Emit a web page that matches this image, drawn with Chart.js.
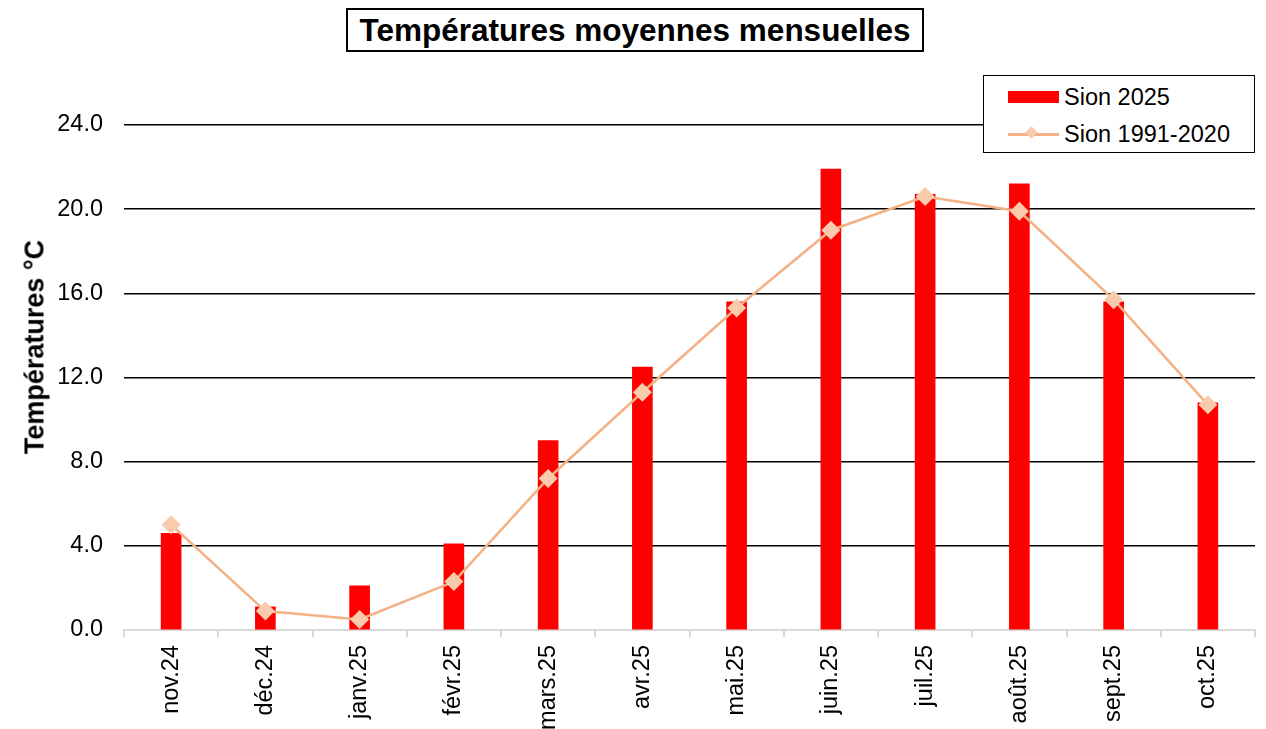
<!DOCTYPE html>
<html lang="fr">
<head>
<meta charset="utf-8">
<script src="https://cdn.jsdelivr.net/npm/chart.js@4.4.1/dist/chart.umd.min.js"></script>
<style>
html,body{margin:0;padding:0;background:#fff;}
#wrap{position:relative;width:1266px;height:729px;font-family:"Liberation Sans",Arial,sans-serif;color:#000;}
#chart{position:absolute;left:0;top:0;}
#title{position:absolute;left:346px;top:8px;width:574px;height:40px;border:2px solid #000;background:#fff;
  font-weight:bold;font-size:31.5px;line-height:41px;text-align:center;white-space:nowrap;}
#ytitle{position:absolute;left:35px;top:347px;transform:translate(-50%,-50%) rotate(-90deg);
  font-weight:bold;font-size:27px;white-space:nowrap;line-height:1;}
#legend{position:absolute;left:983px;top:75px;width:270px;height:76px;border:1.5px solid #000;background:#fff;font-size:23.5px;}
.item{position:absolute;left:0;width:100%;height:30px;}
.item .txt{position:absolute;left:80px;top:50%;transform:translateY(-50%);white-space:nowrap;}
.sw-bar{position:absolute;left:24px;top:9px;width:51px;height:12px;background:#ff0000;}
.sw-line{position:absolute;left:24px;top:14px;width:51px;height:2.5px;background:#f4b183;}
.sw-dot{position:absolute;left:43px;top:9px;width:9px;height:9px;background:#f8cbad;transform:rotate(45deg);}
</style>
</head>
<body>
<div id="wrap">
  <canvas id="chart" width="1266" height="729"></canvas>
  <div id="title">Températures moyennes mensuelles</div>
  <div id="ytitle">Températures °C</div>
  <div id="legend"></div>
</div>
<script>
const months = ['nov.24','déc.24','janv.25','févr.25','mars.25','avr.25','mai.25','juin.25','juil.25','août.25','sept.25','oct.25'];
const sion2025 = [4.6, 1.1, 2.1, 4.1, 9.0, 12.5, 15.6, 21.9, 20.7, 21.2, 15.6, 10.8];
const sionNormale = [5.0, 0.9, 0.5, 2.3, 7.2, 11.3, 15.3, 19.0, 20.6, 19.9, 15.7, 10.7];
const yTicks = [0, 4, 8, 12, 16, 20, 24];

const FONT = '"Liberation Sans", Arial, sans-serif';

const ctx = document.getElementById('chart').getContext('2d');
const chart = new Chart(ctx, {
  type: 'bar',
  data: {
    labels: months,
    datasets: [
      {
        type: 'line',
        label: 'Sion 1991-2020',
        data: sionNormale,
        borderColor: '#f4b183',
        borderWidth: 2.5,
        backgroundColor: '#f8cbad',
        pointStyle: 'rectRot',
        pointRadius: 9.5,
        pointBorderWidth: 0,
        pointBackgroundColor: '#f8cbad',
        tension: 0,
        order: 0
      },
      {
        label: 'Sion 2025',
        data: sion2025,
        backgroundColor: '#ff0000',
        barThickness: 20,
        order: 1
      }
    ]
  },
  options: {
    responsive: false,
    animation: false,
    layout: { padding: { left: 50, right: 11, top: 125, bottom: 0 } },
    plugins: {
      legend: { display: false },
      title: { display: false },
      tooltip: { enabled: false }
    },
    scales: {
      x: {
        offset: true,
        afterFit: s => { s.height = 99; },
        grid: { offset: true, drawOnChartArea: false, color: '#d9d9d9', lineWidth: 2, tickLength: 7 },
        border: { color: '#d9d9d9', width: 2 },
        ticks: { color: '#000', font: { family: FONT, size: 23.5 }, minRotation: 90, maxRotation: 90, padding: 8, autoSkip: false }
      },
      y: {
        min: 0,
        max: 24,
        afterBuildTicks: s => { s.ticks = yTicks.map(v => ({ value: v })); },
        afterFit: s => { s.width = 74; },
        grid: {
          drawTicks: false,
          lineWidth: 1.5,
          color: c => c.tick && c.tick.value === 0 ? '#d9d9d9' : '#000'
        },
        border: { display: false },
        ticks: { color: '#000', padding: 21, font: { family: FONT, size: 23.5 }, callback: v => v.toFixed(1) }
      }
    }
  }
});

// légende HTML
const legend = document.getElementById('legend');
[chart.data.datasets[1], chart.data.datasets[0]].forEach((ds, i) => {
  const item = document.createElement('div');
  item.className = 'item';
  item.style.top = (i === 0 ? 6 : 43) + 'px';
  if (ds.type === 'line') {
    item.innerHTML = '<div class="sw-line"></div><div class="sw-dot"></div>';
  } else {
    item.innerHTML = '<div class="sw-bar"></div>';
  }
  const t = document.createElement('span');
  t.className = 'txt';
  t.textContent = ds.label;
  item.appendChild(t);
  legend.appendChild(item);
});
</script>
</body>
</html>
